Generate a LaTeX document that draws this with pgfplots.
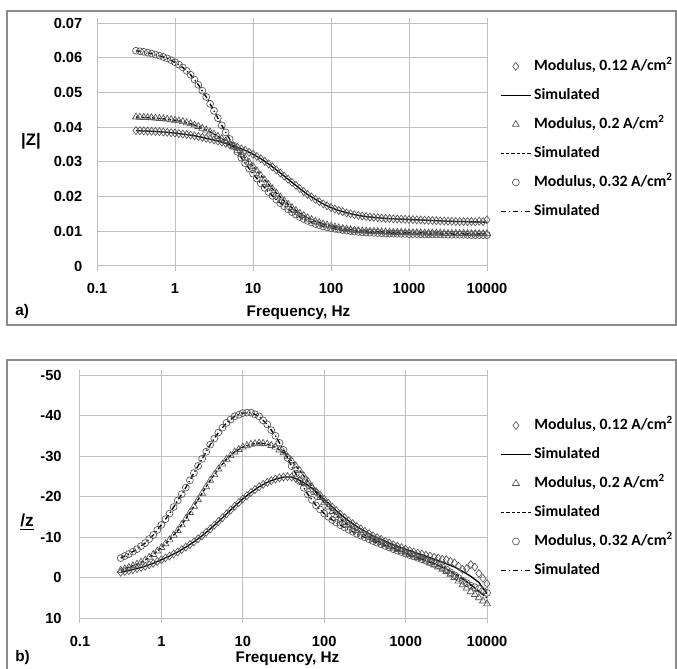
\documentclass[border=0pt]{standalone}
\usepackage{pgfplots}
\pgfplotsset{compat=1.18}
\usepackage{pgfplotstable}
\usepackage{fontspec}
\setmainfont{Liberation Sans}
\newfontfamily\carlito{Carlito}
\definecolor{gridc}{HTML}{BFBFBF}
\definecolor{boxc}{HTML}{8C8C8C}
\definecolor{markc}{HTML}{555555}

% main frequencies: measured (m) and simulated (s)
\pgfplotstableread{
f zdm zds zt zc pdm pds ptm pts pcm pcs
0.316 0.0390 0.0390 0.0429 0.0620 -1.3 -1.3 -1.8 -1.8 -4.8 -4.8
0.398 0.0389 0.0389 0.0428 0.0617 -1.7 -1.7 -2.5 -2.5 -5.8 -5.8
0.501 0.0388 0.0388 0.0427 0.0612 -2.2 -2.2 -3.3 -3.3 -7.0 -7.0
0.631 0.0387 0.0387 0.0425 0.0606 -2.8 -2.8 -4.3 -4.3 -8.5 -8.5
0.794 0.0385 0.0385 0.0423 0.0598 -3.5 -3.5 -5.7 -5.7 -10.5 -10.5
1.000 0.0383 0.0383 0.0420 0.0587 -4.4 -4.4 -7.4 -7.4 -13.0 -13.0
1.259 0.0380 0.0380 0.0416 0.0572 -5.3 -5.3 -9.3 -9.3 -15.8 -15.8
1.585 0.0377 0.0377 0.0410 0.0551 -6.3 -6.3 -11.6 -11.6 -19.0 -19.0
1.995 0.0373 0.0373 0.0402 0.0522 -7.5 -7.5 -14.5 -14.5 -22.2 -22.2
2.512 0.0368 0.0368 0.0392 0.0487 -8.8 -8.8 -17.6 -17.6 -25.8 -25.8
3.162 0.0363 0.0363 0.0380 0.0447 -10.3 -10.3 -20.8 -20.8 -29.3 -29.3
3.981 0.0357 0.0357 0.0367 0.0405 -12.0 -12.0 -24.0 -24.0 -32.8 -32.8
5.012 0.0350 0.0350 0.0352 0.0366 -13.8 -13.8 -26.8 -26.8 -35.8 -35.8
6.310 0.0342 0.0342 0.0333 0.0329 -15.7 -15.7 -29.2 -29.2 -38.2 -38.2
7.943 0.0333 0.0333 0.0311 0.0296 -17.6 -17.6 -31.0 -31.0 -39.8 -39.8
10.00 0.0322 0.0322 0.0287 0.0266 -19.4 -19.4 -32.2 -32.2 -40.6 -40.6
12.59 0.0309 0.0309 0.0261 0.0238 -21.0 -21.0 -32.9 -32.9 -40.7 -40.7
15.85 0.0294 0.0294 0.0235 0.0213 -22.4 -22.4 -33.2 -33.2 -39.8 -39.8
19.95 0.0277 0.0277 0.0210 0.0191 -23.5 -23.5 -33.0 -33.0 -37.8 -37.8
25.12 0.0259 0.0259 0.0188 0.0172 -24.3 -24.3 -32.2 -32.2 -35.0 -35.0
31.62 0.0241 0.0241 0.0168 0.0155 -24.8 -24.8 -30.8 -30.8 -31.5 -31.5
39.81 0.0223 0.0223 0.0152 0.0141 -24.8 -24.8 -28.8 -28.8 -27.5 -27.5
50.12 0.0206 0.0206 0.0139 0.0130 -24.0 -24.0 -26.4 -26.4 -23.8 -23.8
63.10 0.0192 0.0192 0.0129 0.0121 -22.8 -22.8 -23.8 -23.8 -20.5 -20.5
79.43 0.0179 0.0179 0.0121 0.0114 -21.2 -21.2 -21.0 -21.0 -17.8 -17.8
100.0 0.0168 0.0168 0.0115 0.0109 -19.3 -19.3 -18.5 -18.5 -15.8 -15.8
125.9 0.0160 0.0160 0.0110 0.0105 -17.4 -17.4 -16.3 -16.3 -14.2 -14.2
158.5 0.0153 0.0153 0.0106 0.0102 -15.6 -15.6 -14.4 -14.4 -12.9 -12.9
199.5 0.0148 0.0148 0.0103 0.0099 -14.0 -14.0 -12.9 -12.9 -11.8 -11.8
251.2 0.0144 0.0144 0.0101 0.0097 -12.6 -12.6 -11.6 -11.6 -10.8 -10.8
316.2 0.0141 0.0141 0.0100 0.0096 -11.4 -11.4 -10.5 -10.5 -9.9 -9.9
398.1 0.0139 0.0139 0.0099 0.0095 -10.3 -10.3 -9.5 -9.5 -9.0 -9.0
501.2 0.0137 0.0137 0.0098 0.0094 -9.4 -9.4 -8.6 -8.6 -8.2 -8.2
631.0 0.0136 0.0136 0.0097 0.0093 -8.5 -8.5 -7.7 -7.7 -7.4 -7.4
794.3 0.0135 0.0135 0.0097 0.0093 -7.7 -7.7 -6.9 -6.9 -6.6 -6.6
1000 0.0134 0.0134 0.0096 0.0092 -7.0 -7.0 -6.1 -6.1 -5.9 -5.9
1259 0.0133 0.0133 0.0096 0.0092 -6.3 -6.3 -5.3 -5.3 -5.2 -5.2
1585 0.0132 0.0132 0.0095 0.0091 -5.8 -5.6 -4.6 -4.6 -4.5 -4.5
1995 0.0131 0.0131 0.0095 0.0091 -5.3 -4.9 -3.6 -3.8 -3.8 -3.8
2512 0.0130 0.0130 0.0095 0.0091 -4.8 -4.2 -2.6 -3.0 -3.0 -3.0
3162 0.0129 0.0129 0.0094 0.0090 -4.4 -3.4 -1.5 -2.1 -2.0 -2.1
3981 0.0128 0.0128 0.0094 0.0090 -3.6 -2.6 0.0 -1.0 -0.6 -1.0
5012 0.0128 0.0128 0.0094 0.0090 -2.0 -1.5 1.8 0.3 0.8 0.3
6310 0.0128 0.0127 0.0093 0.0089 -3.2 -0.3 3.5 1.8 2.0 1.8
7943 0.0129 0.0127 0.0093 0.0089 -1.0 1.2 5.0 3.4 2.8 3.4
10000 0.0133 0.0126 0.0093 0.0089 1.5 4.0 6.5 5.0 3.8 5.0
}\data

% further measured points between the main frequencies
\pgfplotstableread{
f zd zt zc pd pt pc
0.355 0.03895 0.04285 0.06185 -1.5 -2.15 -5.3
0.447 0.03885 0.04275 0.06145 -1.95 -2.9 -6.4
0.562 0.03875 0.0426 0.0609 -2.5 -3.8 -7.75
0.708 0.0386 0.0424 0.0602 -3.15 -5.0 -9.5
0.891 0.0384 0.04215 0.0593 -3.95 -6.55 -11.75
1.122 0.03815 0.0418 0.0580 -4.85 -8.35 -14.4
1.413 0.03785 0.0413 0.0562 -5.8 -10.45 -17.4
1.778 0.0375 0.0406 0.0537 -6.9 -13.0 -20.6
2.239 0.03705 0.0397 0.0505 -8.15 -16.05 -24.0
2.818 0.03655 0.0386 0.0467 -9.55 -19.2 -27.55
3.548 0.0360 0.03735 0.0426 -11.15 -22.4 -31.05
4.467 0.03535 0.0360 0.0385 -12.9 -25.4 -34.3
5.623 0.0346 0.03425 0.0347 -14.75 -28.0 -37.0
7.079 0.03375 0.0322 0.0312 -16.65 -30.1 -39.0
8.913 0.03275 0.0299 0.0281 -18.5 -31.6 -40.2
11.22 0.03155 0.0274 0.0252 -20.2 -32.55 -40.7
14.13 0.03015 0.0248 0.0225 -21.7 -33.05 -40.3
17.78 0.02855 0.02225 0.0202 -23.0 -33.1 -38.8
22.39 0.0268 0.0199 0.0181 -23.9 -32.6 -36.4
28.18 0.0250 0.0178 0.0163 -24.6 -31.5 -33.25
35.48 0.0232 0.0160 0.0148 -24.9 -29.8 -29.5
44.67 0.02145 0.01455 0.01355 -24.5 -27.6 -25.65
56.23 0.0199 0.0134 0.01255 -23.5 -25.1 -22.15
70.79 0.01855 0.0125 0.01175 -22.0 -22.4 -19.15
89.13 0.01735 0.0118 0.01115 -20.3 -19.75 -16.8
112.2 0.0164 0.01125 0.0107 -18.35 -17.4 -15.0
141.3 0.01565 0.0108 0.01035 -16.5 -15.35 -13.55
177.8 0.01505 0.01045 0.01005 -14.8 -13.65 -12.35
223.9 0.0146 0.0102 0.0098 -13.3 -12.25 -11.3
281.8 0.01425 0.01005 0.00965 -12.0 -11.05 -10.35
354.8 0.0140 0.00995 0.00955 -10.85 -10.0 -9.45
446.7 0.0138 0.00985 0.00945 -9.85 -9.05 -8.6
562.3 0.01365 0.00975 0.00935 -8.95 -8.15 -7.8
707.9 0.01355 0.0097 0.0093 -8.1 -7.3 -7.0
891.3 0.01345 0.00965 0.00925 -7.35 -6.5 -6.25
1122 0.01335 0.0096 0.0092 -6.65 -5.7 -5.55
1413 0.01325 0.00955 0.00915 -6.0 -4.95 -4.85
1778 0.01315 0.0095 0.0091 -5.5 -4.1 -4.15
2239 0.01305 0.0095 0.0091 -5.0 -3.1 -3.4
2818 0.01295 0.00945 0.00905 -4.5 -2.0 -2.5
3548 0.01285 0.0094 0.0090 -4.0 -0.8 -1.3
4467 0.0128 0.0094 0.0090 -2.8 0.9 0.1
5623 0.0128 0.00935 0.00895 -2.2 2.6 1.4
7079 0.01275 0.0093 0.0089 -2.6 4.2 2.4
8913 0.0128 0.0093 0.0089 0.2 5.8 3.3
}\mid

\begin{document}
\begin{tikzpicture}
% panel borders
\draw[boxc, line width=1.2pt] (5.25pt,257.25pt) rectangle (507pt,492.75pt);
\draw[boxc, line width=1.2pt] (5.25pt,-3pt) -- (5.25pt,231pt) -- (507pt,231pt) -- (507pt,-3pt);

\begin{axis}[
  scale only axis,
  at={(72.75pt,301.5pt)}, anchor=south west,
  width=292.5pt, height=182.25pt,
  xmode=log, xmin=0.1, xmax=10000,
  xtick={0.1,1,10,100,1000,10000},
  xticklabels={\textbf{0.1},\textbf{1},\textbf{10},\textbf{100},\textbf{1000},\textbf{10000}},
  xminorticks=false,
  ymin=0, ymax=0.07,
  scaled y ticks=false,
  ytick={0,0.01,0.02,0.03,0.04,0.05,0.06,0.07},
  yticklabels={\textbf{0},\textbf{0.01},\textbf{0.02},\textbf{0.03},\textbf{0.04},\textbf{0.05},\textbf{0.06},\textbf{0.07}},
  grid=major,
  major grid style={gridc, line width=0.75pt},
  axis line style={gridc, line width=0.75pt},
  xtick style={gridc, line width=0.75pt},
  ytick style={draw=none},
  tick align=outside,
  major tick length=4pt,
  tick label style={font=\fontsize{11}{13}\selectfont},
  yticklabel style={xshift=-3.5pt},
  xticklabel style={yshift=-5.5pt},
  legend cell align=left,
  legend style={draw=none, fill=none, inner sep=0pt, row sep=11.75pt,
    font=\carlito\bfseries\fontsize{11.8}{13}\selectfont,
    nodes={text height=8pt, text depth=2pt, inner ysep=0pt, inner xsep=2pt},
    at={(rel axis cs:1.033,0.523)}, anchor=west},
  legend image code/.code={\draw[mark repeat=2,mark phase=2,#1] plot coordinates {(0pt,0pt)(11.25pt,0pt)(22.5pt,0pt)};},
]
\addplot[only marks, mark=diamond, mark size=3pt, mark options={solid, draw=markc, fill=none, line width=0.5pt}] table[x=f,y=zdm] {\data};
\addlegendentry{Modulus, 0.12 A/cm\textsuperscript{2}}
\addplot[forget plot, only marks, mark=diamond, mark size=3pt, mark options={solid, draw=markc, fill=none, line width=0.5pt}] table[x=f,y=zd] {\mid};
\addplot[black, line width=1pt, no marks] table[x=f,y=zds] {\data};
\addlegendentry{Simulated}
\addplot[only marks, mark=triangle, mark size=3pt, mark options={solid, draw=markc, fill=none, line width=0.5pt}] table[x=f,y=zt] {\data};
\addlegendentry{Modulus, 0.2 A/cm\textsuperscript{2}}
\addplot[forget plot, only marks, mark=triangle, mark size=3pt, mark options={solid, draw=markc, fill=none, line width=0.5pt}] table[x=f,y=zt] {\mid};
\addplot[black, line width=1pt, no marks, dash pattern=on 2.5pt off 1.5pt] table[x=f,y=zt] {\data};
\addlegendentry{Simulated}
\addplot[only marks, mark=o, mark size=2.6pt, mark options={solid, draw=markc, fill=none, line width=0.5pt}] table[x=f,y=zc] {\data};
\addlegendentry{Modulus, 0.32 A/cm\textsuperscript{2}}
\addplot[forget plot, only marks, mark=o, mark size=2.6pt, mark options={solid, draw=markc, fill=none, line width=0.5pt}] table[x=f,y=zc] {\mid};
\addplot[black, line width=1pt, no marks, dash pattern=on 4pt off 2pt on 1pt off 2pt] table[x=f,y=zc] {\data};
\addlegendentry{Simulated}
\end{axis}

\begin{axis}[
  scale only axis,
  at={(60pt,37.5pt)}, anchor=south west,
  width=305.25pt, height=182.25pt,
  xmode=log, xmin=0.1, xmax=10000,
  xtick={0.1,1,10,100,1000,10000},
  xticklabels={\textbf{0.1},\textbf{1},\textbf{10},\textbf{100},\textbf{1000},\textbf{10000}},
  xminorticks=false,
  y dir=reverse,
  ymin=-50, ymax=10,
  ytick={-50,-40,-30,-20,-10,0,10},
  yticklabels={\textbf{-50},\textbf{-40},\textbf{-30},\textbf{-20},\textbf{-10},\textbf{0},\textbf{10}},
  grid=major,
  major grid style={gridc, line width=0.75pt},
  axis line style={gridc, line width=0.75pt},
  xtick style={gridc, line width=0.75pt},
  ytick style={draw=none},
  tick align=outside,
  major tick length=4pt,
  tick label style={font=\fontsize{11}{13}\selectfont},
  yticklabel style={xshift=-6.25pt},
  xticklabel style={yshift=-6pt},
  legend cell align=left,
  legend style={draw=none, fill=none, inner sep=0pt, row sep=11.75pt,
    font=\carlito\bfseries\fontsize{11.8}{13}\selectfont,
    nodes={text height=8pt, text depth=2pt, inner ysep=0pt, inner xsep=2pt},
    at={(rel axis cs:1.032,0.494)}, anchor=west},
  legend image code/.code={\draw[mark repeat=2,mark phase=2,#1] plot coordinates {(0pt,0pt)(11.25pt,0pt)(22.5pt,0pt)};},
]
\addplot[only marks, mark=diamond, mark size=3pt, mark options={solid, draw=markc, fill=none, line width=0.5pt}] table[x=f,y=pdm] {\data};
\addlegendentry{Modulus, 0.12 A/cm\textsuperscript{2}}
\addplot[forget plot, only marks, mark=diamond, mark size=3pt, mark options={solid, draw=markc, fill=none, line width=0.5pt}] table[x=f,y=pd] {\mid};
\addplot[black, line width=1pt, no marks] table[x=f,y=pds] {\data};
\addlegendentry{Simulated}
\addplot[only marks, mark=triangle, mark size=3pt, mark options={solid, draw=markc, fill=none, line width=0.5pt}] table[x=f,y=ptm] {\data};
\addlegendentry{Modulus, 0.2 A/cm\textsuperscript{2}}
\addplot[forget plot, only marks, mark=triangle, mark size=3pt, mark options={solid, draw=markc, fill=none, line width=0.5pt}] table[x=f,y=pt] {\mid};
\addplot[black, line width=1pt, no marks, dash pattern=on 2.5pt off 1.5pt] table[x=f,y=pts] {\data};
\addlegendentry{Simulated}
\addplot[only marks, mark=o, mark size=2.6pt, mark options={solid, draw=markc, fill=none, line width=0.5pt}] table[x=f,y=pcm] {\data};
\addlegendentry{Modulus, 0.32 A/cm\textsuperscript{2}}
\addplot[forget plot, only marks, mark=o, mark size=2.6pt, mark options={solid, draw=markc, fill=none, line width=0.5pt}] table[x=f,y=pc] {\mid};
\addplot[black, line width=1pt, no marks, dash pattern=on 4pt off 2pt on 1pt off 2pt] table[x=f,y=pcs] {\data};
\addlegendentry{Simulated}
\end{axis}

% labels
\node[font=\bfseries\fontsize{11.5}{13}\selectfont, anchor=base] at (223.9pt,263.25pt) {Frequency, Hz};
\node[font=\bfseries\fontsize{11.5}{13}\selectfont, anchor=base west, inner sep=0pt] at (11.25pt,264pt) {a)};
\node[font=\bfseries\fontsize{12.5}{14}\selectfont] at (23.25pt,395.25pt) {|Z|};
\node[font=\bfseries\fontsize{11.5}{13}\selectfont, anchor=base] at (215.6pt,4.5pt) {Frequency, Hz};
\node[font=\bfseries\fontsize{11.5}{13}\selectfont, anchor=base west, inner sep=0pt] at (11.25pt,5.25pt) {b)};
\node[font=\bfseries\fontsize{13}{14}\selectfont] at (20.25pt,109.5pt) {\underline{/z}};

\pgfresetboundingbox
\path[use as bounding box] (0,0) rectangle (507.75pt,501pt);
\end{tikzpicture}
\end{document}
